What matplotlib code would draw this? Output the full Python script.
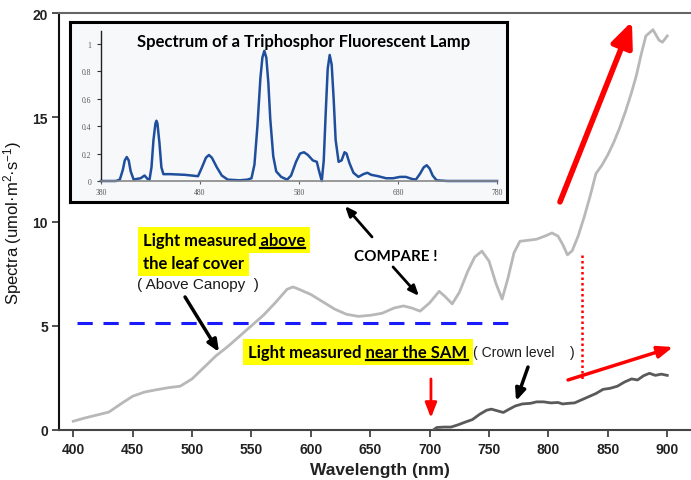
import matplotlib
matplotlib.use('Agg')
import matplotlib.pyplot as plt
from matplotlib.lines import Line2D

plt.rcParams['font.family'] = ['Liberation Sans', 'DejaVu Sans']
plt.rcParams['mathtext.fontset'] = 'custom'
plt.rcParams['mathtext.rm'] = 'Liberation Sans'
plt.rcParams['mathtext.it'] = 'Liberation Sans'

# ---- data: above canopy spectrum (grey) ----
above_wl = [400, 410, 420, 430, 440, 450, 460, 470, 480, 490, 500, 510, 520, 530, 540, 550,
            560, 570, 580, 585, 590, 600, 610, 620, 630, 640, 650, 660, 670, 678, 685, 692,
            700, 708, 713, 719, 725, 732, 738, 744, 750, 756, 761, 766, 771, 776, 783, 790,
            797, 803, 808, 812, 816, 820, 825, 830, 835, 840, 845, 850, 855, 860, 865, 870,
            874, 878, 882, 888, 893, 896, 900]
above_val = [0.42, 0.58, 0.72, 0.86, 1.25, 1.62, 1.82, 1.93, 2.03, 2.1, 2.45, 3.0, 3.55, 4.0, 4.5, 5.0,
             5.5, 6.1, 6.75, 6.86, 6.75, 6.5, 6.15, 5.8, 5.55, 5.45, 5.5, 5.6, 5.85, 5.95, 5.85, 5.7,
             6.1, 6.65, 6.4, 6.05, 6.6, 7.6, 8.3, 8.58, 8.1, 7.0, 6.28, 7.3, 8.5, 9.05, 9.1, 9.15,
             9.3, 9.45, 9.3, 8.9, 8.4, 8.6, 9.3, 10.2, 11.2, 12.3, 12.7, 13.2, 13.8, 14.5, 15.3, 16.2,
             17.0, 18.0, 18.9, 19.2, 18.7, 18.6, 18.9]

# ---- data: near the SAM (dark) ----
sam_wl = [703, 706, 712, 718, 724, 730, 736, 742, 748, 752, 757, 762, 767, 772, 778, 785, 790,
          796, 802, 808, 812, 817, 822, 828, 834, 840, 846, 852, 858, 864, 870, 875, 880, 885,
          890, 895, 900]
sam_val = [0.0, 0.12, 0.14, 0.14, 0.25, 0.38, 0.5, 0.75, 0.95, 1.0, 0.92, 0.84, 1.0, 1.15, 1.25,
           1.28, 1.35, 1.35, 1.3, 1.32, 1.25, 1.28, 1.3, 1.45, 1.6, 1.75, 1.95, 2.0, 2.1, 2.3,
           2.45, 2.4, 2.6, 2.72, 2.62, 2.68, 2.62]

# ---- data: triphosphor lamp spectrum (inset) ----
lamp_wl = [380, 395, 399, 402, 404, 406, 408, 410, 413, 416, 420, 424, 427, 429, 431, 433, 435,
           436, 437, 439, 441, 443, 450, 465, 478, 482, 486, 489, 492, 497, 502, 508, 520, 528,
           532, 535, 538, 541, 543, 545, 547, 549, 551, 554, 557, 562, 568, 572, 577, 581, 585,
           589, 594, 598, 600, 603, 605, 607, 609, 611, 613, 615, 617, 620, 623, 626, 628, 631,
           635, 640, 645, 649, 653, 660, 668, 675, 682, 688, 694, 698, 702, 706, 709, 712, 715,
           719, 730, 780]
lamp_val = [0, 0, 0.01, 0.08, 0.15, 0.175, 0.15, 0.07, 0.01, 0.015, 0.02, 0.04, 0.015, 0.01, 0.1,
            0.3, 0.42, 0.44, 0.42, 0.28, 0.1, 0.05, 0.05, 0.045, 0.035, 0.1, 0.17, 0.19, 0.17, 0.1,
            0.04, 0.01, 0.005, 0.01, 0.02, 0.12, 0.4, 0.75, 0.9, 0.95, 0.9, 0.72, 0.45, 0.18, 0.07,
            0.03, 0.01, 0.04, 0.14, 0.2, 0.21, 0.19, 0.15, 0.14, 0.08, 0.0, 0.15, 0.5, 0.82, 0.92,
            0.85, 0.6, 0.3, 0.14, 0.15, 0.21, 0.2, 0.13, 0.06, 0.03, 0.05, 0.06, 0.045, 0.035, 0.02,
            0.02, 0.03, 0.03, 0.015, 0.01, 0.05, 0.1, 0.115, 0.09, 0.04, 0.005, 0, 0]

x_ticks = [400, 450, 500, 550, 600, 650, 700, 750, 800, 850, 900]
y_ticks = [0, 5, 10, 15, 20]
inset_xticks = [380, 480, 580, 680, 780]
inset_yticks = [0, 0.2, 0.4, 0.6, 0.8, 1]
inset_ylabels = ['0', '0.2', '0.4', '0.6', '0.8', '1']

W, H = 691, 481
fig = plt.figure(figsize=(W / 100, H / 100), dpi=100)

ax = fig.add_axes([59 / W, (H - 431) / H, 1 - 59 / W, (431 - 14) / H])
ax.set_xlim(388, 920)
ax.set_ylim(0, 20)
ax.plot(above_wl, above_val, color='#b8b8b8', lw=2.0, zorder=3)
ax.plot(sam_wl, sam_val, color='#5a5a5a', lw=2.0, zorder=3)
ax.set_xticks(x_ticks)
ax.set_yticks(y_ticks)
for lab in ax.get_xticklabels() + ax.get_yticklabels():
    lab.set_fontweight('bold')
    lab.set_fontsize(10)
    lab.set_color('#222222')
ax.tick_params(axis='both', direction='out', length=5, width=1.2, color='#333333')
ax.tick_params(axis='x', pad=4)
ax.tick_params(axis='y', pad=3)
ax.spines['right'].set_visible(False)
ax.spines['left'].set_linewidth(1.5)
ax.spines['left'].set_color('#111111')
ax.spines['bottom'].set_linewidth(1.5)
ax.spines['bottom'].set_color('#444444')
ax.spines['top'].set_linewidth(1.5)
ax.spines['top'].set_color('#666666')
ax.set_ylabel('Spectra (umol·m$^{2}$·s$^{-1}$)', fontsize=12, color='#111111', labelpad=6)
fig.text(380 / W, 1 - 471 / H, 'Wavelength (nm)', ha='center', va='center', fontsize=12.5,
         fontweight='bold', color='#222222')

# reference line and markers
ax.plot([403, 768], [5.13, 5.13], color='#1a1aff', lw=2.2, dashes=(5, 3.5), zorder=4)
ax.plot([828.2, 828.2], [8.4, 2.4], color='red', lw=1.8, ls=(0, (1, 1.2)), zorder=4)

def arrow(tail, tip, color, lw, hw, hl):
    ax.annotate('', xy=tip, xytext=tail, zorder=6,
                arrowprops=dict(arrowstyle=f'-|>,head_width={hw},head_length={hl}',
                                color=color, lw=lw, shrinkA=0, shrinkB=0))

arrow((809.7, 10.94), (870.3, 19.6), 'red', 4.0, 0.65, 1.5)
arrow((816.5, 2.4), (904.9, 3.98), 'red', 2.5, 0.35, 0.9)
arrow((701.1, 2.45), (701.1, 0.58), 'red', 2.0, 0.35, 0.9)
arrow((651.5, 9.26), (628.8, 10.74), 'black', 2.0, 0.25, 0.6)
arrow((669.2, 7.82), (691.0, 6.43), 'black', 2.0, 0.25, 0.6)
arrow((494.1, 6.38), (522.7, 3.74), 'black', 2.5, 0.3, 0.7)
arrow((782.8, 3.02), (772.7, 1.39), 'black', 2.5, 0.3, 0.7)

hl_font = dict(family=['Lato', 'DejaVu Sans'], fontweight='bold', fontsize=12, color='black')
hl_box = dict(boxstyle='square,pad=0.3', facecolor='#ffff00', edgecolor='none')

t1 = ax.text(458.5, 8.87, 'Light measured above', va='baseline', ha='left', bbox=hl_box,
             zorder=7, **hl_font)
t2 = ax.text(458.5, 7.77, 'the leaf cover', va='baseline', ha='left', bbox=hl_box,
             zorder=7, **hl_font)
t3 = ax.text(547.5, 3.5, 'Light measured near the SAM', va='baseline', ha='left', bbox=hl_box,
             zorder=7, **hl_font)
ax.text(453.7, 7.0, '( Above Canopy  )', va='center', ha='left', fontsize=11,
        color='#1a1a1a', zorder=7)
ax.text(636, 8.35, 'COMPARE !', va='center', ha='left', fontsize=11, fontweight='bold',
        family=['Lato', 'DejaVu Sans'], color='black', zorder=7)
ax.text(736.5, 3.75, '( Crown level    )', va='center', ha='left', fontsize=10,
        color='#1a1a1a', zorder=7)

fig.canvas.draw()
renderer = fig.canvas.get_renderer()

def underline(t, word):
    full = t.get_window_extent(renderer)
    tmp = ax.text(0, 0, word, fontproperties=t.get_fontproperties())
    w = tmp.get_window_extent(renderer).width
    tmp.remove()
    x1 = full.x1
    x0 = x1 - w
    xb, yb = ax.transData.transform((t.get_position()[0], t.get_position()[1]))
    ypix = yb - 3
    fx0, fy = fig.transFigure.inverted().transform((x0, ypix))
    fx1, _ = fig.transFigure.inverted().transform((x1, ypix))
    fig.add_artist(Line2D([fx0, fx1], [fy, fy], color='black', lw=1.6, zorder=8))

underline(t1, 'above')
underline(t3, 'near the SAM')

# ---- inset ----
box = fig.add_axes([70 / W, (H - 203) / H, 437 / W, 180 / H])
box.set_facecolor('#f7f8fa')
box.set_xticks([])
box.set_yticks([])
for s in box.spines.values():
    s.set_linewidth(2.2)
    s.set_color('black')
box.text(0.535, 0.895, 'Spectrum of a Triphosphor Fluorescent Lamp', transform=box.transAxes,
         ha='center', va='center', fontsize=12, fontweight='bold',
         family=['Lato', 'DejaVu Sans'], color='black')

ins = fig.add_axes([101 / W, (H - 182) / H, 396 / W, 150 / H])
ins.patch.set_alpha(0)
ins.set_xlim(380, 780)
ins.set_ylim(0, 1.095)
ins.plot(lamp_wl, lamp_val, color='#1f4f9c', lw=1.8, clip_on=False)
ins.set_xticks(inset_xticks)
ins.set_yticks(inset_yticks)
ins.set_yticklabels(inset_ylabels)
for lab in ins.get_xticklabels() + ins.get_yticklabels():
    lab.set_family(['Liberation Serif', 'DejaVu Serif'])
    lab.set_fontsize(5.5)
    lab.set_color('#555555')
ins.tick_params(axis='y', length=3, width=0.8, pad=4, color='#333333')
ins.tick_params(axis='x', length=2, width=0.8, pad=3, color='#666666')
ins.spines['top'].set_visible(False)
ins.spines['right'].set_visible(False)
ins.spines['left'].set_color('#222222')
ins.spines['left'].set_linewidth(1.0)
ins.spines['bottom'].set_color('#888888')
ins.spines['bottom'].set_linewidth(1.2)

fig.savefig('out.png', dpi=100)
